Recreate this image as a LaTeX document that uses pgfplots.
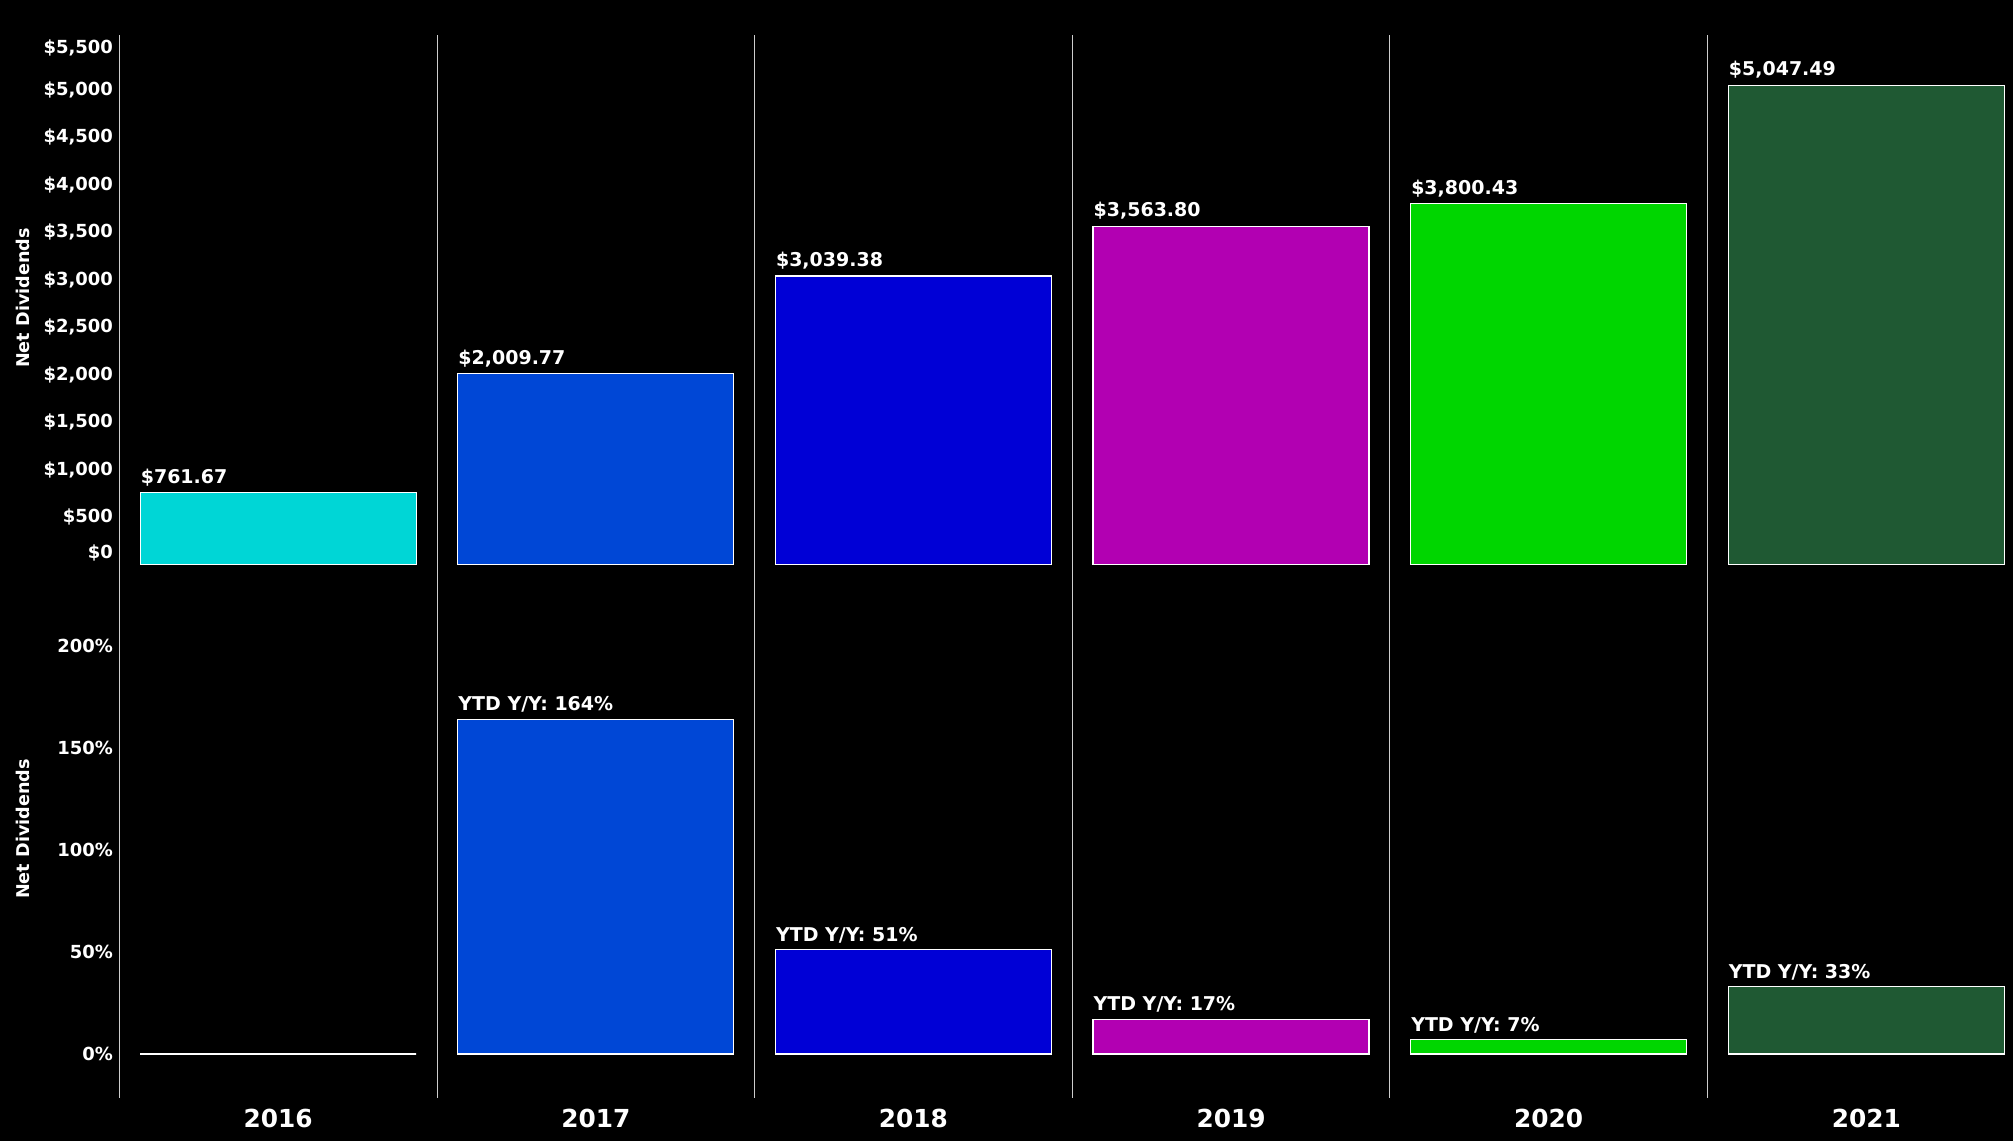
\documentclass[border=0pt]{standalone}
\usepackage{pgfplots}
\pgfplotsset{compat=1.18}
\usepackage{fontspec}
\setmainfont{DejaVu Sans}
\definecolor{c16}{RGB}{0,214,214}
\definecolor{c17}{RGB}{0,71,214}
\definecolor{c18}{RGB}{0,0,214}
\definecolor{c19}{RGB}{178,0,178}
\definecolor{c20}{RGB}{0,214,0}
\definecolor{c21}{RGB}{31,89,51}
\definecolor{divc}{RGB}{205,205,205}
\pgfplotsset{
  common/.style={
    scale only axis, width=946.8pt, height=265.7pt,
    xmin=-0.5, xmax=5.462,
    axis line style={draw=none},
    ybar,
    major tick length=0pt,
    extra x ticks={-0.5,0.5,1.5,2.5,3.5,4.5},
    extra x tick labels={},
    extra x tick style={grid=major, major grid style={divc, line width=0.5pt}},
    tick label style={white, font=\bfseries\fontsize{9}{10}\selectfont},
    yticklabel style={anchor=east, inner sep=3pt},
  },
  yb/.style={fill=#1, draw=white, line width=0.6pt, bar width=0.869, bar shift=0pt},
  lab/.style={nodes near coords, point meta=explicit symbolic,
    nodes near coords style={anchor=south west, xshift=-69pt, yshift=3pt, inner sep=0pt,
      white, font=\bfseries\fontsize{9.5}{11}\selectfont}},
}
\begin{document}
\begin{tikzpicture}
\fill[black] (0pt,0pt) rectangle (1006.5pt,570.5pt);
% top panel: net dividends
\begin{axis}[common, at={(59.7pt,287.5pt)}, anchor=south west,
  ymin=-12, ymax=5580,
  xtick=\empty,
  ytick={500,1000,1500,2000,2500,3000,3500,4000,4500,5000},
  yticklabels={{\$500},{\$1,000},{\$1,500},{\$2,000},{\$2,500},{\$3,000},{\$3,500},{\$4,000},{\$4,500},{\$5,000}},
  extra y ticks={0,5500}, extra y tick labels={{\$0},{\$5,500}},
  extra y tick style={yticklabel style={yshift={(\ticknum==0) ? 5.8 : -3}}},
]
\addplot[yb=c16, lab] coordinates {(0,761.67) [\$761.67]};
\addplot[yb=c17, lab] coordinates {(1,2009.77) [\$2,009.77]};
\addplot[yb=c18, lab] coordinates {(2,3039.38) [\$3,039.38]};
\addplot[yb=c19, lab] coordinates {(3,3563.80) [\$3,563.80]};
\addplot[yb=c20, lab] coordinates {(4,3800.43) [\$3,800.43]};
\addplot[yb=c21, lab] coordinates {(5,5047.49) [\$5,047.49]};
\end{axis}
% bottom panel: YTD Y/Y
\begin{axis}[common, at={(59.7pt,21.7pt)}, anchor=south west,
  ymin=-21.4, ymax=239,
  ytick={0,50,100,150,200},
  yticklabels={{0\%},{50\%},{100\%},{150\%},{200\%}},
  xtick={0,1,2,3,4,5},
  xticklabels={2016,2017,2018,2019,2020,2021},
  xticklabel style={anchor=north, yshift=-2pt, font=\bfseries\fontsize{12.4}{14}\selectfont},
]
\addplot[yb=c16] coordinates {(0,0)};
\addplot[yb=c17, lab] coordinates {(1,164) [YTD Y/Y: 164\%]};
\addplot[yb=c18, lab] coordinates {(2,51) [YTD Y/Y: 51\%]};
\addplot[yb=c19, lab] coordinates {(3,17) [YTD Y/Y: 17\%]};
\addplot[yb=c20, lab] coordinates {(4,7) [YTD Y/Y: 7\%]};
\addplot[yb=c21, lab] coordinates {(5,33) [YTD Y/Y: 33\%]};
\end{axis}
\node[rotate=90, white, font=\bfseries\fontsize{8.8}{10}\selectfont] at (11.5pt,421.5pt) {Net Dividends};
\node[rotate=90, white, font=\bfseries\fontsize{8.8}{10}\selectfont] at (11.5pt,156pt) {Net Dividends};
\pgfresetboundingbox
\useasboundingbox (0pt,0pt) rectangle (1006.5pt,570.5pt);
\end{tikzpicture}
\end{document}
